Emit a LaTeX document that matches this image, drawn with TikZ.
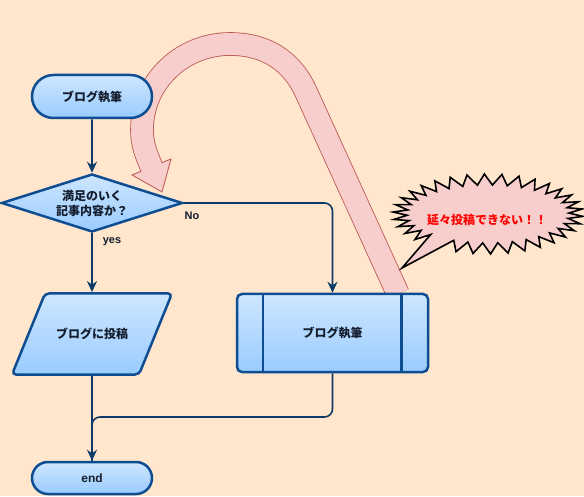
\documentclass[tikz,border=0pt]{standalone}
\usepackage{fontspec}
\usepackage{tikz}
\usetikzlibrary{shapes.geometric,shapes.misc,arrows.meta}
\setmainfont{Noto Sans CJK JP}
\newfontfamily\latinfont{Liberation Sans}
\definecolor{page-bg}{HTML}{FFE6CC}
\definecolor{flow-top}{HTML}{CEE6FF}
\definecolor{flow-bottom}{HTML}{99CCFF}
\definecolor{flow-line}{HTML}{0E4D92}
\definecolor{link-line}{HTML}{0D3A66}
\definecolor{loop-fill}{HTML}{F8CECC}
\definecolor{loop-line}{HTML}{B85450}
\definecolor{flow-text}{HTML}{141E2E}
\tikzset{
    flow-fill/.style = {draw=flow-line, line width=2.5pt, top color=flow-top, bottom color=flow-bottom},
    flow-node/.style = {flow-fill, text=flow-text, font=\bfseries\fontsize{12}{15}\selectfont, align=center, inner sep=0pt},
    flow-term/.style = {flow-node, rounded rectangle, minimum width=120pt},
    flow-decision/.style = {flow-node, diamond, aspect=3, minimum width=181pt, minimum height=58pt},
    flow-io-text/.style = {text=flow-text, font=\bfseries\fontsize{12}{15}\selectfont, inner sep=0pt, minimum height=81pt},
    flow-sub/.style = {flow-node, rectangle, minimum width=191pt, minimum height=78pt, rounded corners=5pt},
    flow-link/.style = {draw=link-line, line width=1.6pt, rounded corners=8pt},
    flow-arrow/.style = {flow-link, -{Stealth[length=11pt,width=10pt]}},
    flow-label/.style = {text=flow-text, font=\latinfont\bfseries\fontsize{11}{13}\selectfont},
    loop-shaft/.style = {draw=loop-line, line width=0.8pt, double=loop-fill, double distance=22pt},
    loop-head/.style = {fill=loop-fill, draw=loop-line, line width=0.8pt},
    bang-shape/.style = {fill=loop-fill, draw=black, line width=1.6pt, line join=miter},
    bang-text/.style = {text=red, font=\bfseries\fontsize{12}{14}\selectfont},
}
\begin{document}
\begin{tikzpicture}[x=1pt, y=1pt]
\fill[page-bg] (0,0) rectangle (584,496);
\useasboundingbox (0,0) rectangle (584,496);

% writing loop arrow
\draw[loop-shaft] (398,202) -- (306,404) to[out=114.5,in=0] (230,452) to[out=180,in=90] (142,366) to[out=-90,in=112.3] (151.5,329);
\filldraw[loop-head] (141.3,324.8) -- (132,321) -- (162,304) -- (171,337) -- (161.7,333.2);

% callout
\coordinate (bang-tail) at (402,228);
\draw[bang-shape] (bang-tail) \foreach \i in {0,...,64}{ -- ({488+(81+14*mod(\i,2))*cos(245+\i*5.3125)},{282+(29+11*mod(\i,2))*sin(245+\i*5.3125)}) } -- cycle;
\node[bang-text] (bang) at (487,276) {延々投稿できない！！};

% flow nodes
\node[flow-term, minimum height=43pt] (start) at (92,399.5) {ブログ執筆};
\node[flow-decision] (check) at (92,293) {満足のいく\\記事内容か？};
\draw[flow-fill, rounded corners=4pt] (12,121.5) -- (45,202.5) -- (172,202.5) -- (139,121.5) -- cycle;
\node[flow-io-text] (post) at (92,162) {ブログに投稿};
\node[flow-sub] (write) at (332.5,163) {ブログ執筆};
\draw[draw=flow-line, line width=2.5pt] ([xshift=27pt]write.north west) -- ([xshift=27pt]write.south west);
\draw[draw=flow-line, line width=2.5pt] ([xshift=-28pt]write.north east) -- ([xshift=-28pt]write.south east);
\node[flow-term, minimum height=32pt, font=\latinfont\bfseries\fontsize{12}{14}\selectfont] (end) at (92,18) {end};

% connectors
\coordinate (merge) at (92,79);
\draw[flow-arrow] (start) -- (check);
\draw[flow-arrow] (check.east) -| (write.north);
\draw[flow-arrow] (check) -- ([yshift=1.2pt]post.north);
\draw[flow-link] (write.south) |- (merge) -- (end.north);
\draw[flow-arrow] ([yshift=-1.2pt]post.south) -- (end);
\node[flow-label] (no) at (192,280) {No};
\node[flow-label] (yes) at (112,254) {yes};
\end{tikzpicture}
\end{document}
